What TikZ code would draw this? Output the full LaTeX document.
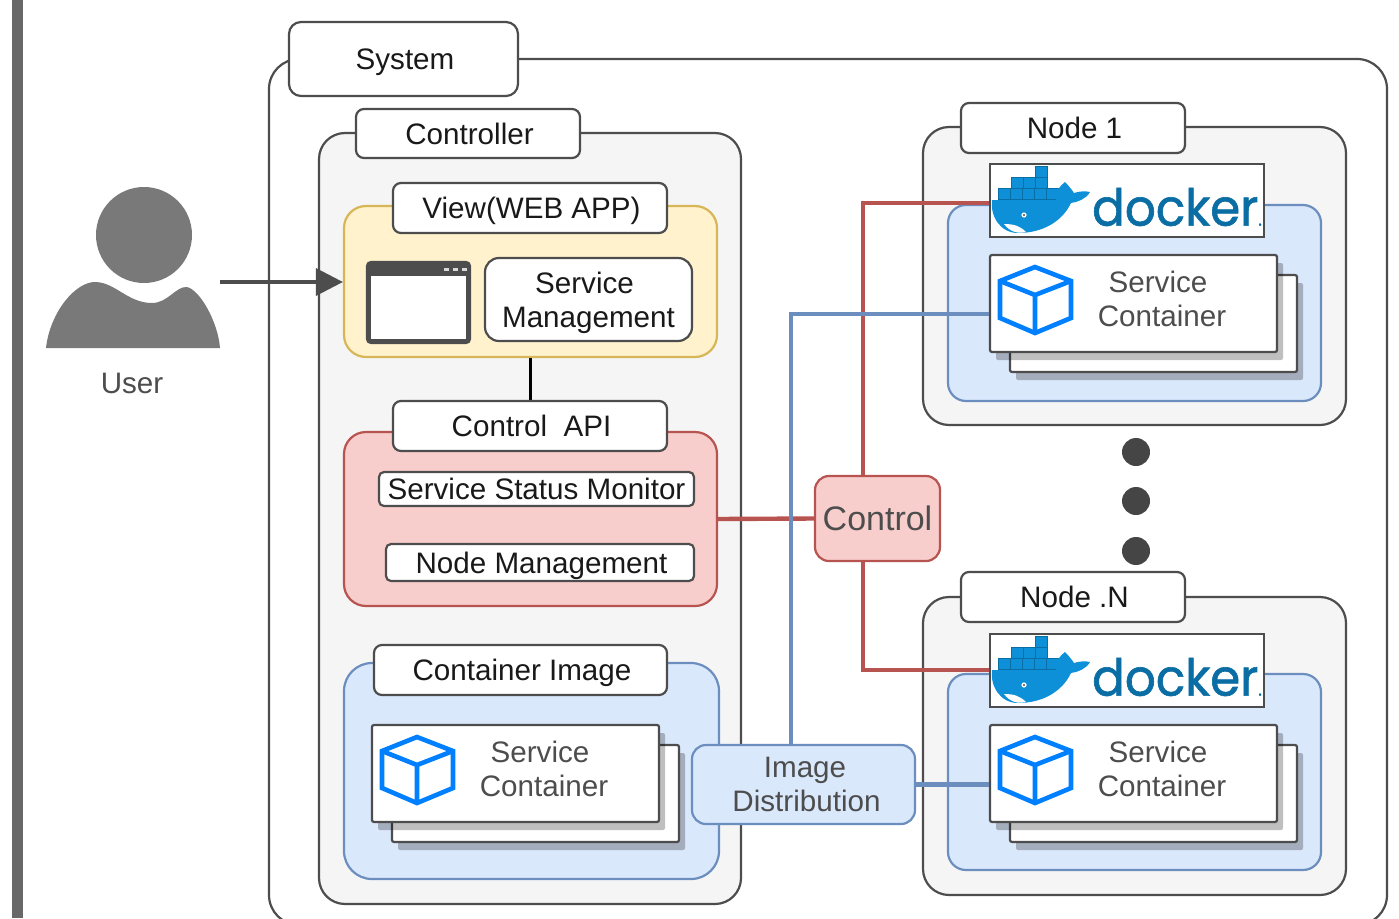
\documentclass[tikz,border=0pt]{standalone}
\usepackage{fontspec}
\setmainfont{Liberation Sans}
\newfontfamily\dockerfont[FakeBold=1.2,FakeStretch=0.95]{Poppins}
\usetikzlibrary{arrows.meta,positioning,calc,shadows}
\definecolor{edgegray}{HTML}{4D4D4D}
\definecolor{panelgray}{HTML}{F5F5F5}
\definecolor{yellowfill}{HTML}{FFF2CC}
\definecolor{yellowline}{HTML}{D6B656}
\definecolor{redfill}{HTML}{F8CECC}
\definecolor{redline}{HTML}{B85450}
\definecolor{bluefill}{HTML}{DAE8FC}
\definecolor{blueline}{HTML}{6C8EBF}
\definecolor{cubeblue}{HTML}{007FFF}
\definecolor{whaleblue}{HTML}{0E90D8}
\definecolor{dockertext}{HTML}{0A6EA4}
\tikzset{
  box/.style = {draw = edgegray, line width = 2.2pt, inner sep = 0pt, rounded corners = #1, text depth = -2pt,
    font = \fontsize{29.6}{34}\selectfont, align = center, text = black!90},
  box/.default = 10pt,
  panel/.style = {box = 26pt, fill = panelgray},
  labelbox/.style = {box = 8pt, fill = white, execute at begin node = \hspace*{3pt}},
  svcbox/.style = {box = 2pt, fill = white, minimum width = 287, minimum height = 97,
    drop shadow = {shadow xshift = 6pt, shadow yshift = -8pt, fill = black, opacity = .25}},
  svctext/.style = {inner sep = 0pt, font = \fontsize{29.6}{34}\selectfont, align = center, text = edgegray},
  redwire/.style = {draw = redline, line width = 4.4pt},
  bluewire/.style = {draw = blueline, line width = 4.4pt},
}
\newcommand{\svcstack}[3]{%
\node[svcbox] (#1back) at (#2+163.5,#3+68.5) {};
\node[svcbox] (#1) at (#2+143.5,#3+48.5) {};
\node[svctext] (#1text) at (#2+172,#3+44) {Service\hspace*{8pt}\\Container};
\begin{scope}[shift = {(#2,#3)}, line width = 4.6pt, line join = miter]
\draw[cubeblue] (45,12) -- (81,26) -- (81,63) -- (45,78) -- (10,63) -- (10,26) -- cycle;
\draw[cubeblue] (10,26) -- (45,40) -- (81,26) (45,40) -- (45,78);
\end{scope}}
\newcommand{\dockerlogo}[3]{%
\node[box = 0pt, line width = 2.8pt, fill = white, minimum width = 274, minimum height = 73] (#1) at (#2+137,#3+36.5) {};
\begin{scope}[shift = {(#2,#3)}]
\foreach \cx/\cy in {8/24,20/24,32/24,44/24,56/24,21/13,33/13,45/13,45/2}
  \draw[fill = whaleblue, draw = dockertext, line width = .5pt] (\cx,\cy) rectangle +(12,11);
\fill[whaleblue] (2,36) -- (66,36) .. controls (64,28) and (70,22) .. (75,18) .. controls (79,22) and (82,26) .. (84,29) .. controls (90,27) and (96,27) .. (100,28) .. controls (96,35) and (88,38) .. (81,39) .. controls (72,58) and (52,69) .. (28,69) .. controls (10,69) and (0,52) .. (2,36) -- cycle;
\fill[white] (14,60) .. controls (24,60) and (30,62) .. (36,68) .. controls (28,70) and (20,68) .. (14,60) -- cycle;
\fill[white] (34,51) circle (2.6);
\fill[edgegray] (34,51) circle (1.2);
\end{scope}
\node[inner sep = 0pt, text = dockertext, font = \dockerfont\fontsize{51}{51}\selectfont] (#1text) at (#2+187,#3+43) {docker{\fontsize{18}{18}\selectfont.}};}

\begin{document}
\begin{tikzpicture}[x = 1pt, y = -1pt]
\clip (0,0) rectangle (1399,918);
\fill[white] (0,0) rectangle (1399,918);
\fill[edgegray!85] (12,0) rectangle (23,918);

% user
\fill[edgegray!75] (144,235) circle (48);
\fill[edgegray!75] (46,348) .. controls (50,312) and (76,281) .. (96,282) .. controls (116,283) and (128,303) .. (152,303) .. controls (168,303) and (176,286) .. (187,287) .. controls (200,290) and (218,322) .. (220,348) -- cycle;
\node[svctext] (user) at (132,383) {User};
\coordinate (userarm) at (220,282);

% system
\node[box = 30pt, minimum width = 1118, minimum height = 866] (system) at (828,492) {};
\node[labelbox, rounded corners = 12pt, minimum width = 229, minimum height = 74] (systemlabel) at (403.5,59) {System};

% controller
\node[panel, minimum width = 422, minimum height = 771] (controller) at (530,518.5) {};
\node[labelbox, minimum width = 224, minimum height = 49] (controllerlabel) at (468,133.5) {Controller};

\node[box = 22pt, draw = yellowline, fill = yellowfill, minimum width = 373, minimum height = 151] (view) at (530.5,281.5) {};
\node[box = 22pt, draw = redline, fill = redfill, minimum width = 373, minimum height = 174] (api) at (530.5,519) {};
\draw[black, line width = 2.4pt] (view) -- (api);
\node[labelbox, minimum width = 274, minimum height = 50] (viewlabel) at (530,208) {View(WEB APP)};
\node[box = 4pt, fill = edgegray, minimum width = 103, minimum height = 81] (browser) at (418.5,302.5) {};
\node[fill = white, inner sep = 0pt, minimum width = 95, minimum height = 63] (browserpane) at (418.5,307.5) {};
\foreach \dotx in {444,453,462}
  \fill[white!85!black] (\dotx,268) rectangle +(5,3);
\node[box = 14pt, fill = white, minimum width = 207, minimum height = 83] (svcmgmt) at (588.5,299.5) {Service\hspace*{8pt}\\Management};

\node[labelbox, minimum width = 274, minimum height = 50] (apilabel) at (530,426) {Control\ \ API};
\node[box = 5pt, fill = white, minimum width = 315, minimum height = 34] (monitor) at (536.5,489) {Service Status Monitor};
\node[box = 5pt, fill = white, minimum width = 308, minimum height = 37, execute at begin node = \hspace*{3pt}] (nodemgmt) at (540,562.5) {Node Management};

\node[box = 28pt, draw = blueline, fill = bluefill, minimum width = 375, minimum height = 216] (image) at (531.5,771) {};
\node[labelbox, minimum width = 293, minimum height = 50] (imagelabel) at (520.5,670) {Container Image};
\svcstack{imagesvc}{372}{725}

% nodes
\node[panel, minimum width = 423, minimum height = 298] (nodeone) at (1134.5,276) {};
\node[labelbox, minimum width = 224, minimum height = 50] (nodeonelabel) at (1073,128) {Node 1};
\node[box = 18pt, draw = blueline, fill = bluefill, minimum width = 373, minimum height = 196] (engineone) at (1134.5,303) {};
\svcstack{svcone}{990}{255}

\node[panel, minimum width = 423, minimum height = 298] (noden) at (1134.5,746) {};
\node[labelbox, minimum width = 224, minimum height = 50] (nodenlabel) at (1073,597) {Node .N};
\node[box = 18pt, draw = blueline, fill = bluefill, minimum width = 373, minimum height = 196] (enginen) at (1134.5,772) {};
\svcstack{svcn}{990}{725}

\foreach \doty in {452,501,551}
  \fill[edgegray!90!black] (1136,\doty) circle (14);

% links
\node[box = 14pt, draw = blueline, fill = bluefill, minimum width = 223, minimum height = 79, text = edgegray, execute at begin node = \hspace*{3pt}] (imgdist) at (803.5,784.5) {Image\\\hspace*{3pt}Distribution};
\node[box = 14pt, draw = redline, fill = redfill, minimum width = 125, minimum height = 85, text = edgegray, font = \fontsize{34}{38}\selectfont] (control) at (877.5,518.5) {Control};
\coordinate (dockeronein) at (990,203);
\coordinate (dockernin) at (990,670);

\draw[redwire] (api.east) -- (control.west);
\draw[redwire] ([xshift = -14.5pt]control.north) |- (dockeronein);
\draw[redwire] ([xshift = -14.5pt]control.south) |- (dockernin);
\draw[bluewire] ([xshift = -12.5pt]imgdist.north) |- ([yshift = -10.5pt]svcone.west);
\draw[bluewire] (imgdist.east) -- (imgdist.east -| svcn.west);
\draw[-{Triangle[length = 27pt, width = 27pt]}, edgegray, line width = 3.6pt] (userarm) -- (userarm -| view.west);

\dockerlogo{dockerone}{990}{164}
\dockerlogo{dockern}{990}{634}
\end{tikzpicture}
\end{document}
